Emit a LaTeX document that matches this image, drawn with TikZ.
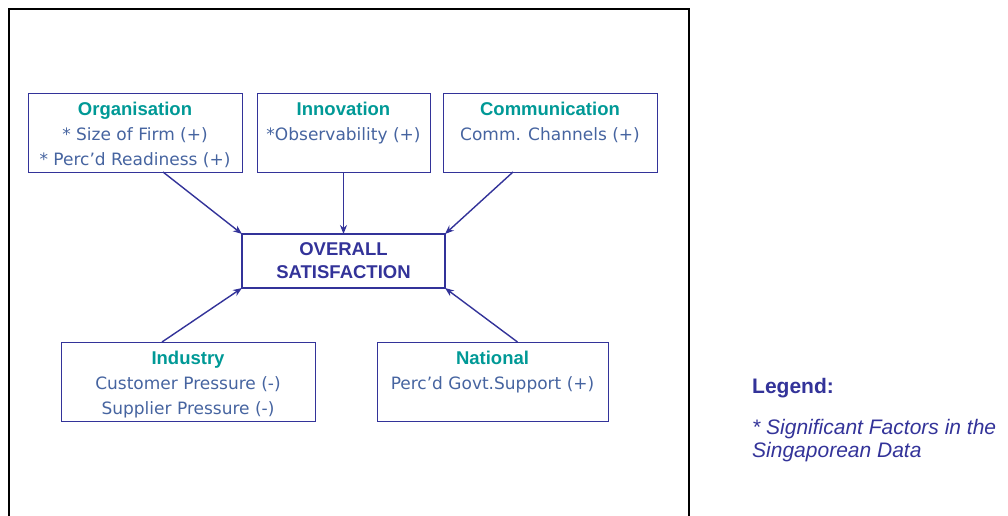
\documentclass[tikz,border=0pt]{standalone}
\usepackage{fontspec}
\setmainfont{DejaVu Sans}
\newfontfamily\headfont{Liberation Sans}
\usetikzlibrary{positioning,arrows.meta}

\definecolor{frameblue}{RGB}{51,51,153}
\definecolor{headteal}{RGB}{0,153,150}
\definecolor{itemblue}{RGB}{70,100,160}

\tikzset{
  factor/.style={draw=frameblue, line width=0.8pt, rectangle, minimum height=79pt, inner sep=0pt, outer sep=0pt},
  factortext/.style={anchor=north, align=center, inner sep=0pt, yshift=-9pt, text=itemblue, font=\fontsize{17}{25}\selectfont},
  conn/.style={draw=frameblue, line width=1.4pt, -{Stealth[length=9pt,width=7pt]}},
}
\newcommand{\facthead}[1]{{\headfont\bfseries\fontsize{18.5}{22}\selectfont\color{headteal}#1}}

\begin{document}
\begin{tikzpicture}[x=1pt, y=-1pt]
    \useasboundingbox (0,0) rectangle (1008,516);
    % frame round the model, open at the bottom
    \draw[line width=2pt] (9,530) -- (9,9) -- (689,9) -- (689,530);

    % factor groups
    \node [factor, minimum width=214pt, label={[factortext]north:\facthead{Organisation}\\* Size of Firm (+)\\* Perc'd Readiness (+)}] (org) at (135,132.5) {};
    \node [factor, minimum width=173pt, right=15pt of org, label={[factortext]north:\facthead{Innovation}\\*Observability (+)}] (inno) {};
    \node [factor, minimum width=214pt, right=13pt of inno, label={[factortext]north:\facthead{Communication}\\Comm. Channels (+)}] (comm) {};

    \node [draw=frameblue, line width=2.2pt, rectangle, minimum width=203pt, minimum height=54pt, outer sep=0pt, align=center, text=frameblue, font=\headfont\bfseries\fontsize{18.5}{23}\selectfont] (sat) at (343.5,261) {OVERALL\\SATISFACTION};

    \node [factor, minimum width=254pt, label={[factortext]north:\facthead{Industry}\\Customer Pressure (-)\\Supplier Pressure (-)}] (ind) at (188,381.5) {};
    \node [factor, minimum width=231pt, right=62pt of ind, label={[factortext]north:\facthead{National}\\Perc'd Govt.Support (+)}] (nat) {};

    % influences on satisfaction
    \draw [conn] ([xshift=28pt]org.south) -- (sat.north west);
    \draw [conn] (inno.south) -- (sat.north);
    \draw [conn] ([xshift=-37pt]comm.south) -- (sat.north east);
    \draw [conn] ([xshift=-26pt]ind.north) -- (sat.south west);
    \draw [conn] ([xshift=25pt]nat.north) -- (sat.south east);

    % legend
    \node [anchor=west, inner sep=0pt, text=frameblue, font=\headfont\bfseries\fontsize{21}{24}\selectfont] (legend) at (752,388) {Legend:};
    \node [anchor=north west, inner sep=0pt, align=left, text=frameblue, font=\headfont\itshape\fontsize{21}{23.5}\selectfont] (note) at (752,419) {* Significant Factors in the\\Singaporean Data};
\end{tikzpicture}
\end{document}
